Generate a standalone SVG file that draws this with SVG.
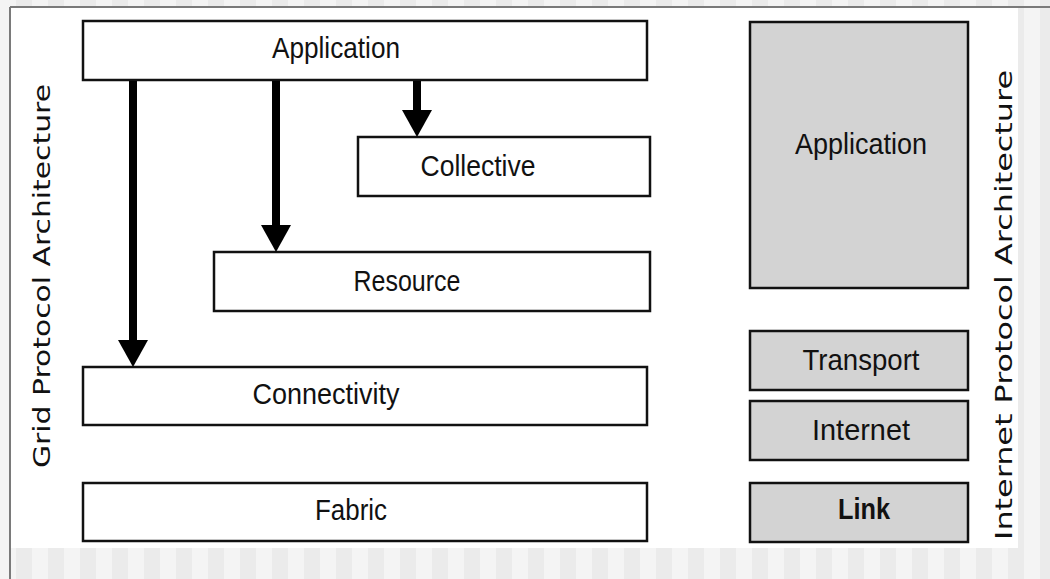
<svg xmlns="http://www.w3.org/2000/svg" width="1050" height="579" viewBox="0 0 1050 579">
  <defs>
    <pattern id="bg" x="0" y="0" width="32" height="579" patternUnits="userSpaceOnUse">
      <rect x="0" y="0" width="16" height="579" fill="#f4f4f4"/>
      <rect x="16" y="0" width="16" height="579" fill="#ebebeb"/>
    </pattern>
    <marker id="head" viewBox="0 0 27 30" markerWidth="27" markerHeight="30" refX="0" refY="15" orient="auto" markerUnits="userSpaceOnUse">
      <path d="M0,0 L27,15 L0,30 Z" fill="#000"/>
    </marker>
    <style>
      .box { fill: #ffffff; stroke: #111; stroke-width: 2.5; }
      .ip { fill: #d3d3d3; stroke: #111; stroke-width: 2.5; }
      .lbl { font-family: "Liberation Sans", Arial, sans-serif; font-size: 30px; fill: #111; text-anchor: middle; }
      .side { font-family: "DejaVu Sans", Verdana, sans-serif; font-size: 23px; fill: #111; text-anchor: middle; }
      .conn { stroke: #000; stroke-width: 8; fill: none; }
    </style>
  </defs>

  <rect x="0" y="0" width="1050" height="579" fill="url(#bg)"/>
  <rect x="10" y="7" width="1008" height="541" fill="#ffffff"/>
  <line x1="10" y1="7" x2="1050" y2="7" stroke="#7a7a7a" stroke-width="2"/>
  <line x1="10" y1="7" x2="10" y2="579" stroke="#7a7a7a" stroke-width="2"/>

  <g id="grid-label">
    <text class="side" transform="translate(50,276) rotate(-90)" textLength="384" lengthAdjust="spacingAndGlyphs">Grid Protocol Architecture</text>
  </g>
  <g id="ip-label">
    <text class="side" transform="translate(1012,305) rotate(-90)" textLength="470" lengthAdjust="spacingAndGlyphs">Internet Protocol Architecture</text>
  </g>

  <g id="grid-application">
    <rect class="box" x="83" y="21" width="564" height="59"/>
    <text class="lbl" x="336" y="58" textLength="128" lengthAdjust="spacingAndGlyphs">Application</text>
  </g>
  <g id="collective">
    <rect class="box" x="358" y="137" width="292" height="59"/>
    <text class="lbl" x="478" y="176" textLength="115" lengthAdjust="spacingAndGlyphs">Collective</text>
  </g>
  <g id="resource">
    <rect class="box" x="214" y="252" width="436" height="59"/>
    <text class="lbl" x="407" y="291" textLength="107" lengthAdjust="spacingAndGlyphs">Resource</text>
  </g>
  <g id="connectivity">
    <rect class="box" x="83" y="367" width="564" height="58"/>
    <text class="lbl" x="326" y="404" textLength="147" lengthAdjust="spacingAndGlyphs">Connectivity</text>
  </g>
  <g id="fabric">
    <rect class="box" x="83" y="483" width="564" height="58"/>
    <text class="lbl" x="351" y="520" textLength="72" lengthAdjust="spacingAndGlyphs">Fabric</text>
  </g>

  <g id="ip-application">
    <rect class="ip" x="750" y="22" width="218" height="266"/>
    <text class="lbl" x="861" y="154" textLength="132" lengthAdjust="spacingAndGlyphs">Application</text>
  </g>
  <g id="transport">
    <rect class="ip" x="750" y="331" width="218" height="59"/>
    <text class="lbl" x="861" y="370" textLength="117" lengthAdjust="spacingAndGlyphs">Transport</text>
  </g>
  <g id="internet">
    <rect class="ip" x="750" y="401" width="218" height="59"/>
    <text class="lbl" x="861" y="440" textLength="98" lengthAdjust="spacingAndGlyphs">Internet</text>
  </g>
  <g id="link">
    <rect class="ip" x="750" y="483" width="218" height="59"/>
    <text class="lbl" x="864" y="519" font-weight="bold" textLength="52" lengthAdjust="spacingAndGlyphs">Link</text>
  </g>

  <g id="connectors">
    <line class="conn" x1="133" y1="81" x2="133" y2="340" marker-end="url(#head)"/>
    <line class="conn" x1="276" y1="81" x2="276" y2="225" marker-end="url(#head)"/>
    <line class="conn" x1="417" y1="81" x2="417" y2="110" marker-end="url(#head)"/>
  </g>
</svg>
